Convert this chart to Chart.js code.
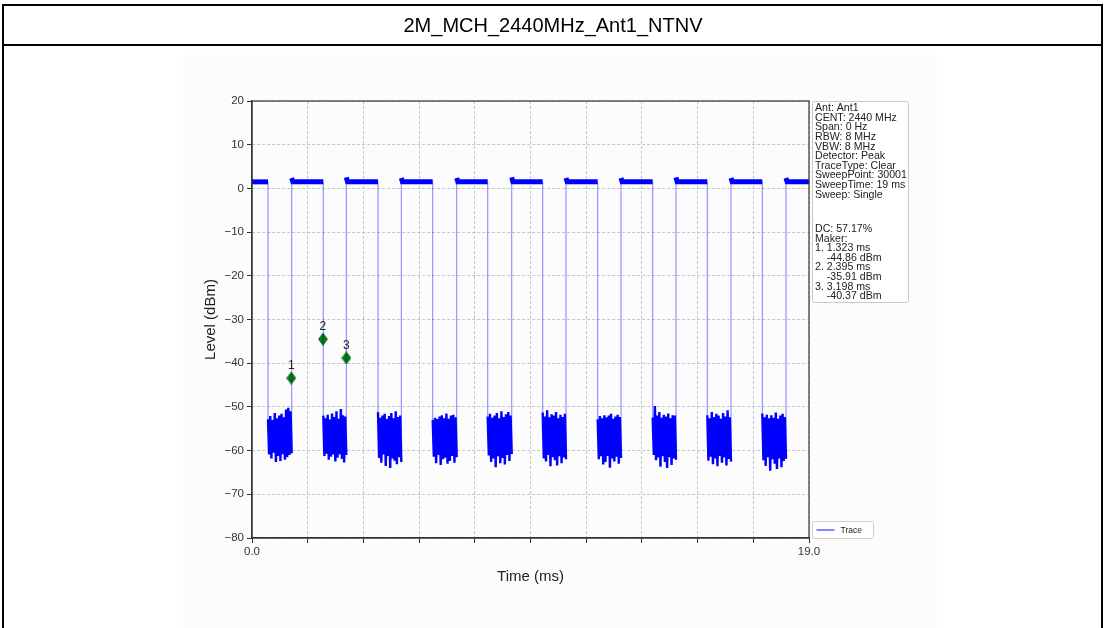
<!DOCTYPE html>
<html>
<head>
<meta charset="utf-8">
<title>2M_MCH_2440MHz_Ant1_NTNV</title>
<script src="https://cdn.jsdelivr.net/npm/chart.js"></script>
<style>
  body { margin: 0; background: #fff; }
  #wrap { position: relative; width: 1105px; height: 628px; overflow: hidden; }
  #canvas { position: absolute; left: 0; top: 0; }
  .ln { position: absolute; background: #000; }
  #title { position: absolute; left: 4px; top: 6px; width: 1098px; height: 39px; line-height: 39px;
           text-align: center; font-family: "Liberation Sans", Arial, sans-serif; font-size: 20px; color: #000; }
</style>
</head>
<body>
<div id="wrap">
  <canvas id="canvas" width="1105" height="628"></canvas>
  <div class="ln" style="left:2px;top:4px;width:1101px;height:2px"></div>
  <div class="ln" style="left:2px;top:44px;width:1101px;height:2px"></div>
  <div class="ln" style="left:2px;top:4px;width:2px;height:624px"></div>
  <div class="ln" style="left:1101px;top:4px;width:2px;height:624px"></div>
  <div id="title">2M_MCH_2440MHz_Ant1_NTNV</div>
</div>

<script>
// burst timing (ms)
const burstStart = [0, 1.354, 3.217, 5.093, 6.983, 8.859, 10.711, 12.587, 14.463, 16.339, 18.215]
const burstEnd = [0.546, 2.432, 4.298, 6.164, 8.040, 9.916, 11.792, 13.668, 15.531, 17.407, 19.0]
// level on top of each burst (dBm) and the little overshoot at its start
const burstLevel = [1.5, 1.5, 1.5, 1.5, 1.5, 1.5, 1.5, 1.5, 1.5, 1.5, 1.5]
const burstPeak = [1.5, 2.4, 2.5, 2.4, 2.4, 2.5, 2.4, 2.4, 2.5, 2.4, 2.4]

// noise floor samples between bursts (dBm)
const noiseGaps = [
  [-52.8,-60.9,-52.1,-61.8,-53.0,-60.5,-51.4,-62.6,-52.6,-61.2,-52.0,-62.4,-51.6,-60.8,-52.4,-62.1,-50.6,-61.5,-50.2,-61.0,-51.0,-60.6],
  [-52.0,-61.2,-52.6,-60.7,-51.8,-62.1,-52.9,-61.4,-51.5,-60.9,-52.3,-62.5,-51.0,-61.6,-52.7,-60.8,-50.5,-61.9,-51.9,-62.7,-52.2,-61.0],
  [-51.2,-61.7,-52.5,-62.8,-52.0,-60.9,-51.6,-63.5,-52.8,-61.2,-52.1,-64.0,-51.4,-61.8,-52.6,-62.3,-51.0,-63.1,-52.3,-61.5,-52.0,-62.6],
  [-53.0,-61.4,-52.5,-62.9,-52.8,-61.0,-52.2,-63.3,-51.9,-62.0,-52.6,-61.6,-51.5,-63.0,-52.7,-62.4,-52.0,-61.2,-51.8,-62.8,-52.4,-61.5],
  [-52.2,-61.1,-51.6,-62.6,-52.5,-61.8,-52.0,-63.8,-51.4,-61.3,-52.6,-62.9,-51.0,-61.7,-52.3,-63.2,-51.7,-61.0,-51.2,-62.4,-52.0,-60.8],
  [-51.3,-61.8,-52.2,-62.5,-50.8,-61.0,-52.4,-63.6,-51.7,-61.5,-52.0,-62.2,-51.2,-63.4,-52.6,-61.3,-51.8,-62.9,-52.3,-61.6,-51.6,-62.0],
  [-52.8,-62.0,-52.1,-61.3,-52.6,-63.2,-51.9,-62.6,-52.4,-61.2,-52.0,-63.9,-51.6,-61.8,-52.7,-62.5,-52.2,-61.4,-51.8,-63.0,-52.3,-61.7],
  [-52.4,-61.0,-49.8,-62.2,-52.0,-61.6,-51.2,-63.7,-52.5,-61.3,-51.8,-62.6,-52.2,-64.0,-51.5,-61.5,-52.6,-63.3,-51.9,-61.8,-52.0,-62.1],
  [-51.9,-62.3,-52.6,-61.4,-51.2,-63.1,-52.3,-61.8,-51.6,-63.6,-52.0,-61.2,-52.7,-62.8,-51.4,-61.6,-52.2,-63.4,-50.8,-61.9,-52.4,-62.5],
  [-51.5,-62.2,-52.4,-63.5,-51.8,-61.5,-52.6,-64.6,-51.9,-62.0,-52.5,-63.0,-51.3,-64.2,-52.7,-61.8,-52.0,-63.8,-51.6,-62.4,-52.3,-61.9]
]

// markers as drawn on the plot
const markerLabels = ['1', '2', '3']
const markerTime = [1.34, 2.42, 3.22]
const markerLevel = [-43.4, -34.5, -38.8]

const xTickValues = [0, 1.9, 3.8, 5.7, 7.6, 9.5, 11.4, 13.3, 15.2, 17.1, 19.0]
const xTickLabels = ['0.0', '', '', '', '', '', '', '', '', '', '19.0']
const yTickValues = [20, 10, 0, -10, -20, -30, -40, -50, -60, -70, -80]

const infoLines = ['Ant: Ant1', 'CENT: 2440 MHz', 'Span: 0 Hz', 'RBW: 8 MHz', 'VBW: 8 MHz',
  'Detector: Peak', 'TraceType: Clear', 'SweepPoint: 30001', 'SweepTime: 19 ms', 'Sweep: Single']
const makerLines = ['DC: 57.17%', 'Maker:', '1. 1.323 ms', '    -44.86 dBm', '2. 2.395 ms',
  '    -35.91 dBm', '3. 3.198 ms', '    -40.37 dBm']

// build the trace
let trace = []
for (let i = 0; i < burstStart.length; i++) {
  const s = burstStart[i], e = burstEnd[i]
  if (i > 0) {
    trace.push({ x: s, y: burstPeak[i] })
    trace.push({ x: s + 0.04, y: burstLevel[i] })
  } else {
    trace.push({ x: s, y: burstLevel[i] })
  }
  trace.push({ x: e, y: burstLevel[i] })
  if (i < noiseGaps.length) {
    const g = noiseGaps[i]
    const next = burstStart[i + 1]
    for (let k = 0; k < g.length; k++) {
      trace.push({ x: e + k * (next - e) / (g.length - 1), y: g[k] })
    }
  }
}

const markers = markerTime.map((t, i) => ({ x: t, y: markerLevel[i] }))

// thin diamond like matplotlib's 'd'
const diamond = document.createElement('canvas')
diamond.width = 10
diamond.height = 13
const dctx = diamond.getContext('2d')
dctx.beginPath()
dctx.moveTo(5, 0.5); dctx.lineTo(9.5, 6.5); dctx.lineTo(5, 12.5); dctx.lineTo(0.5, 6.5); dctx.closePath()
dctx.fillStyle = '#008000'
dctx.fill()
dctx.strokeStyle = '#0a5c0a'
dctx.lineWidth = 0.8
dctx.stroke()

const high = v => v > -20
const minus = v => String(v).replace('-', '\u2212')

const extras = {
  id: 'extras',
  beforeDraw(chart) {
    const c = chart.ctx
    c.save()
    c.fillStyle = '#fcfcfc'
    c.fillRect(183, 55, 754, 573)
    c.restore()
  },
  afterDatasetsDraw(chart) {
    const c = chart.ctx
    const a = chart.chartArea
    c.save()
    // spines
    c.strokeStyle = '#333'
    c.lineWidth = 1.2
    c.strokeRect(a.left, a.top, a.right - a.left, a.bottom - a.top)

    // marker numbers
    const meta = chart.getDatasetMeta(1)
    c.fillStyle = '#222'
    c.font = '12px "Liberation Sans", Arial, sans-serif'
    c.textAlign = 'center'
    c.textBaseline = 'middle'
    meta.data.forEach((p, i) => c.fillText(markerLabels[i], p.x, p.y - 12))

    // axis titles
    c.font = '15px "Liberation Sans", Arial, sans-serif'
    c.fillText('Time (ms)', (a.left + a.right) / 2, 577)
    c.save()
    c.translate(211, (a.top + a.bottom) / 2)
    c.rotate(-Math.PI / 2)
    c.fillText('Level (dBm)', 0, 0)
    c.restore()

    // info box
    const bx = a.right + 3.5
    c.fillStyle = '#fff'
    c.strokeStyle = '#c8c8c8'
    c.lineWidth = 1
    c.beginPath()
    c.roundRect(bx, 101.5, 96, 201, 2)
    c.fill()
    c.stroke()
    c.fillStyle = '#222'
    c.textAlign = 'left'
    c.font = '10.6px "Liberation Sans", Arial, sans-serif'
    infoLines.forEach((t, i) => c.fillText(t, bx + 2.5, 108 + i * 9.65))
    makerLines.forEach((t, i) => c.fillText(t, bx + 2.5, 229 + i * 9.6))

    // legend
    c.fillStyle = '#fff'
    c.strokeStyle = '#d0d0d0'
    c.beginPath()
    c.roundRect(bx, 521.5, 61, 17, 2)
    c.fill()
    c.stroke()
    c.strokeStyle = 'rgba(40,40,255,0.75)'
    c.lineWidth = 1.5
    c.beginPath()
    c.moveTo(bx + 4, 530)
    c.lineTo(bx + 22, 530)
    c.stroke()
    c.fillStyle = '#222'
    c.font = '8.5px "Liberation Sans", Arial, sans-serif'
    c.fillText('Trace', bx + 28, 530.5)
    c.restore()
  }
}

const tickFont = { family: '"Liberation Sans", Arial, sans-serif', size: 11.5 }

const chart = new Chart(document.querySelector('#canvas').getContext('2d'), {
  type: 'scatter',
  data: {
    datasets: [{
      label: 'Trace',
      data: trace,
      showLine: true,
      pointRadius: 0,
      borderColor: '#0000ff',
      borderWidth: 2.4,
      segment: {
        borderWidth: ctx => {
          const a = high(ctx.p0.parsed.y), b = high(ctx.p1.parsed.y)
          if (a && b) return 5
          if (a !== b) return 1.1
          return 2.4
        },
        borderColor: ctx => (high(ctx.p0.parsed.y) !== high(ctx.p1.parsed.y)) ? 'rgba(0,0,255,0.45)' : '#0000ff'
      }
    }, {
      label: 'Markers',
      data: markers,
      pointStyle: diamond,
      pointRadius: 5,
      showLine: false
    }]
  },
  options: {
    responsive: false,
    animation: false,
    devicePixelRatio: 1,
    layout: { padding: { left: 200, right: 296, top: 101, bottom: 50 } },
    plugins: { legend: { display: false }, tooltip: { enabled: false } },
    scales: {
      x: {
        type: 'linear',
        min: 0,
        max: 19,
        afterFit: s => { s.height = 40 },
        afterBuildTicks: s => { s.ticks = xTickValues.map(v => ({ value: v })) },
        ticks: {
          autoSkip: false,
          maxRotation: 0,
          color: '#333',
          font: tickFont,
          padding: 2,
          callback: (v, i) => xTickLabels[i]
        },
        grid: { color: '#b8b8b8', lineWidth: 0.8, tickLength: 5, tickColor: '#333', tickWidth: 1 },
        border: { color: '#333', width: 1.2, dash: [3, 2] }
      },
      y: {
        min: -80,
        max: 20,
        afterFit: s => { s.width = 52 },
        afterBuildTicks: s => { s.ticks = yTickValues.map(v => ({ value: v })) },
        ticks: {
          color: '#333',
          font: tickFont,
          padding: 3,
          callback: v => minus(v)
        },
        grid: { color: '#b8b8b8', lineWidth: 0.8, tickLength: 5, tickColor: '#333', tickWidth: 1 },
        border: { color: '#333', width: 1.2, dash: [3, 2] }
      }
    }
  },
  plugins: [extras]
})
</script>
</body>
</html>
